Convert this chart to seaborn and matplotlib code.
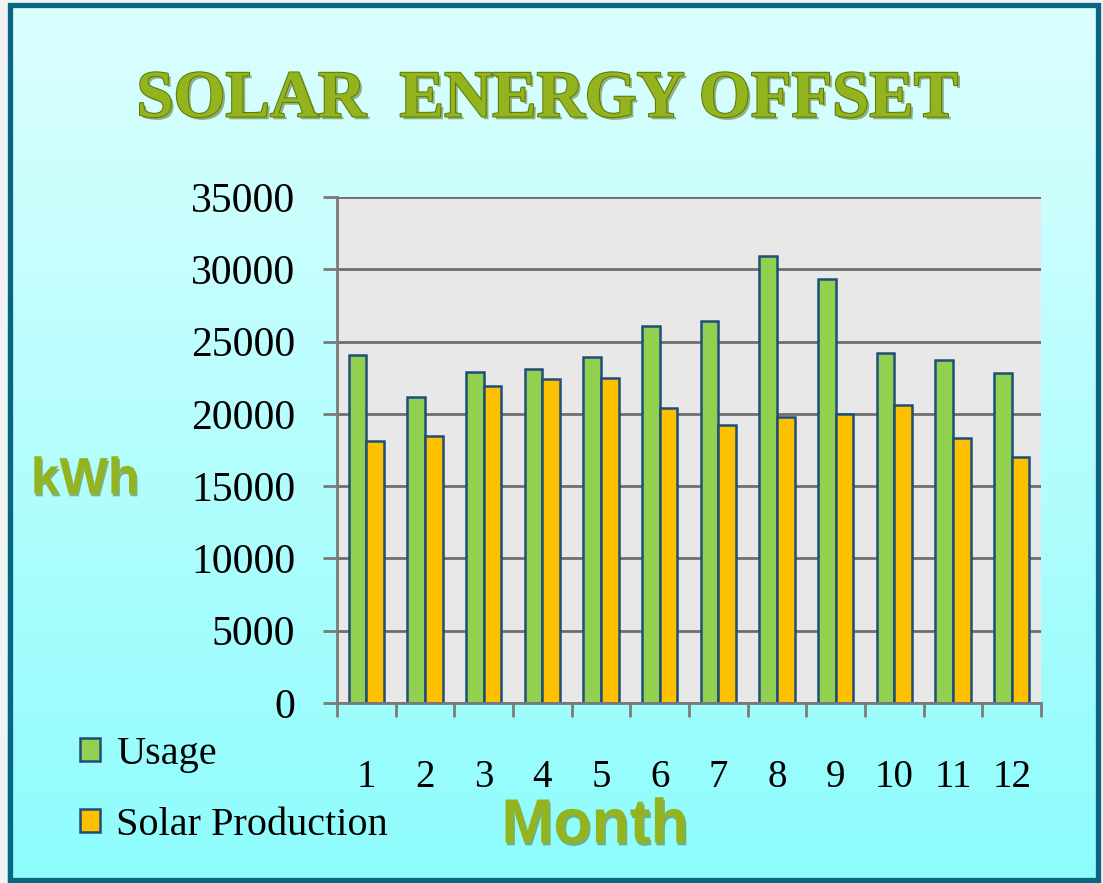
import numpy as np
import pandas as pd
import matplotlib
matplotlib.use('Agg')
import matplotlib.pyplot as plt
import matplotlib.patheffects as pe
from matplotlib.patches import Rectangle
from matplotlib.colors import LinearSegmentedColormap
from matplotlib.ticker import FixedLocator
import seaborn as sns

# Data
months = ['1', '2', '3', '4', '5', '6', '7', '8', '9', '10', '11', '12']
usage = [24100, 21200, 22900, 23100, 23900, 26100, 26400, 30900, 29300, 24200, 23700, 22800]
solar = [18100, 18500, 21900, 22400, 22500, 20400, 19200, 19800, 20000, 20600, 18300, 17000]
series_names = ['Usage', 'Solar Production']
y_ticks = [0, 5000, 10000, 15000, 20000, 25000, 30000, 35000]

df = pd.DataFrame({
    'Month': months + months,
    'kWh': usage + solar,
    'Series': [series_names[0]] * len(months) + [series_names[1]] * len(months),
})

W, H = 1103, 883
green = '#92d050'
orange = '#ffc000'
edge = '#1f4e79'
grid_col = '#6e6e6e'
title_green = '#93b41f'

sns.set_theme(style='white')
plt.rcParams['font.family'] = ['Liberation Serif', 'DejaVu Serif']
plt.rcParams['text.color'] = 'black'

fig = plt.figure(figsize=(W / 100, H / 100), dpi=100)
fig.patch.set_facecolor('#f2f2f2')

# cyan gradient panel
bg = fig.add_axes([7 / W, 1 / H, 1094 / W, 880 / H])
grad = np.linspace(0, 1, 256).reshape(-1, 1)
cmap = LinearSegmentedColormap.from_list('panel', ['#dcfffe', '#8efcfc'])
bg.imshow(grad, aspect='auto', cmap=cmap, extent=[0, 1, 0, 1], origin='upper')
bg.axis('off')
fig.add_artist(Rectangle((9.5 / W, 3.5 / H), 1088 / W, 875 / H, transform=fig.transFigure,
                         fill=False, edgecolor='#0b6580', linewidth=3.8))

# main chart
ax = fig.add_axes([337 / W, 180 / H, 704 / W, 506 / H])
sns.barplot(data=df, x='Month', y='kWh', hue='Series', palette=[green, orange],
            width=0.6, saturation=1, edgecolor=edge, linewidth=1.8, ax=ax)

handles, labels = ax.get_legend_handles_labels()
ax.get_legend().remove()

ax.set_facecolor('#e8e8e8')
ax.set_ylim(0, 35000)
ax.set_xlim(-0.5, len(months) - 0.5)
ax.set_yticks(y_ticks)
ax.set_yticklabels([str(t) for t in y_ticks])
ax.yaxis.grid(True, color=grid_col, linewidth=2)
ax.xaxis.grid(False)
ax.set_axisbelow(True)
ax.set_xlabel('')
ax.set_ylabel('')

for s in ['top', 'right']:
    ax.spines[s].set_visible(False)
for s in ['left', 'bottom']:
    ax.spines[s].set_color('#7a7a7a')
    ax.spines[s].set_linewidth(2)

ax.xaxis.set_minor_locator(FixedLocator(np.arange(-0.5, len(months), 1)))
ax.tick_params(axis='x', which='major', length=0, pad=40, labelsize=28, labelcolor='black')
ax.tick_params(axis='x', which='minor', length=10, width=2, color='#7a7a7a', direction='out', bottom=True)
ax.tick_params(axis='y', length=10, width=2, color='#7a7a7a', direction='out', left=True,
               pad=20, labelsize=30, labelcolor='black')

# titles
fig.text(547 / W, 1 - 100 / H, 'SOLAR  ENERGY OFFSET', ha='center', va='center',
         fontsize=48, fontweight='bold', color=title_green,
         path_effects=[pe.withSimplePatchShadow(offset=(2, -2), shadow_rgbFace='#4d6604', alpha=0.5),
                       pe.withStroke(linewidth=1.5, foreground='#5d7a05')])
fig.text(85 / W, 1 - 480 / H, 'kWh', ha='center', va='center', fontsize=37,
         fontweight='bold', family='Liberation Sans', color=title_green,
         path_effects=[pe.withSimplePatchShadow(offset=(1, -2), shadow_rgbFace='#4d6604', alpha=0.5)])
fig.text(595 / W, 1 - 826 / H, 'Month', ha='center', va='center', fontsize=45,
         fontweight='bold', family='Liberation Sans', color=title_green,
         path_effects=[pe.withSimplePatchShadow(offset=(1, -2), shadow_rgbFace='#4d6604', alpha=0.5)])

fig.legend(handles, labels, loc='upper left', bbox_to_anchor=(80 / W, 1 - 736 / H),
           frameon=False, fontsize=29, handlelength=0.5, handleheight=0.5,
           handletextpad=0.4, labelspacing=0.84, borderpad=0, borderaxespad=0,
           labelcolor='black')

fig.savefig('out.png', dpi=100, facecolor=fig.get_facecolor())
